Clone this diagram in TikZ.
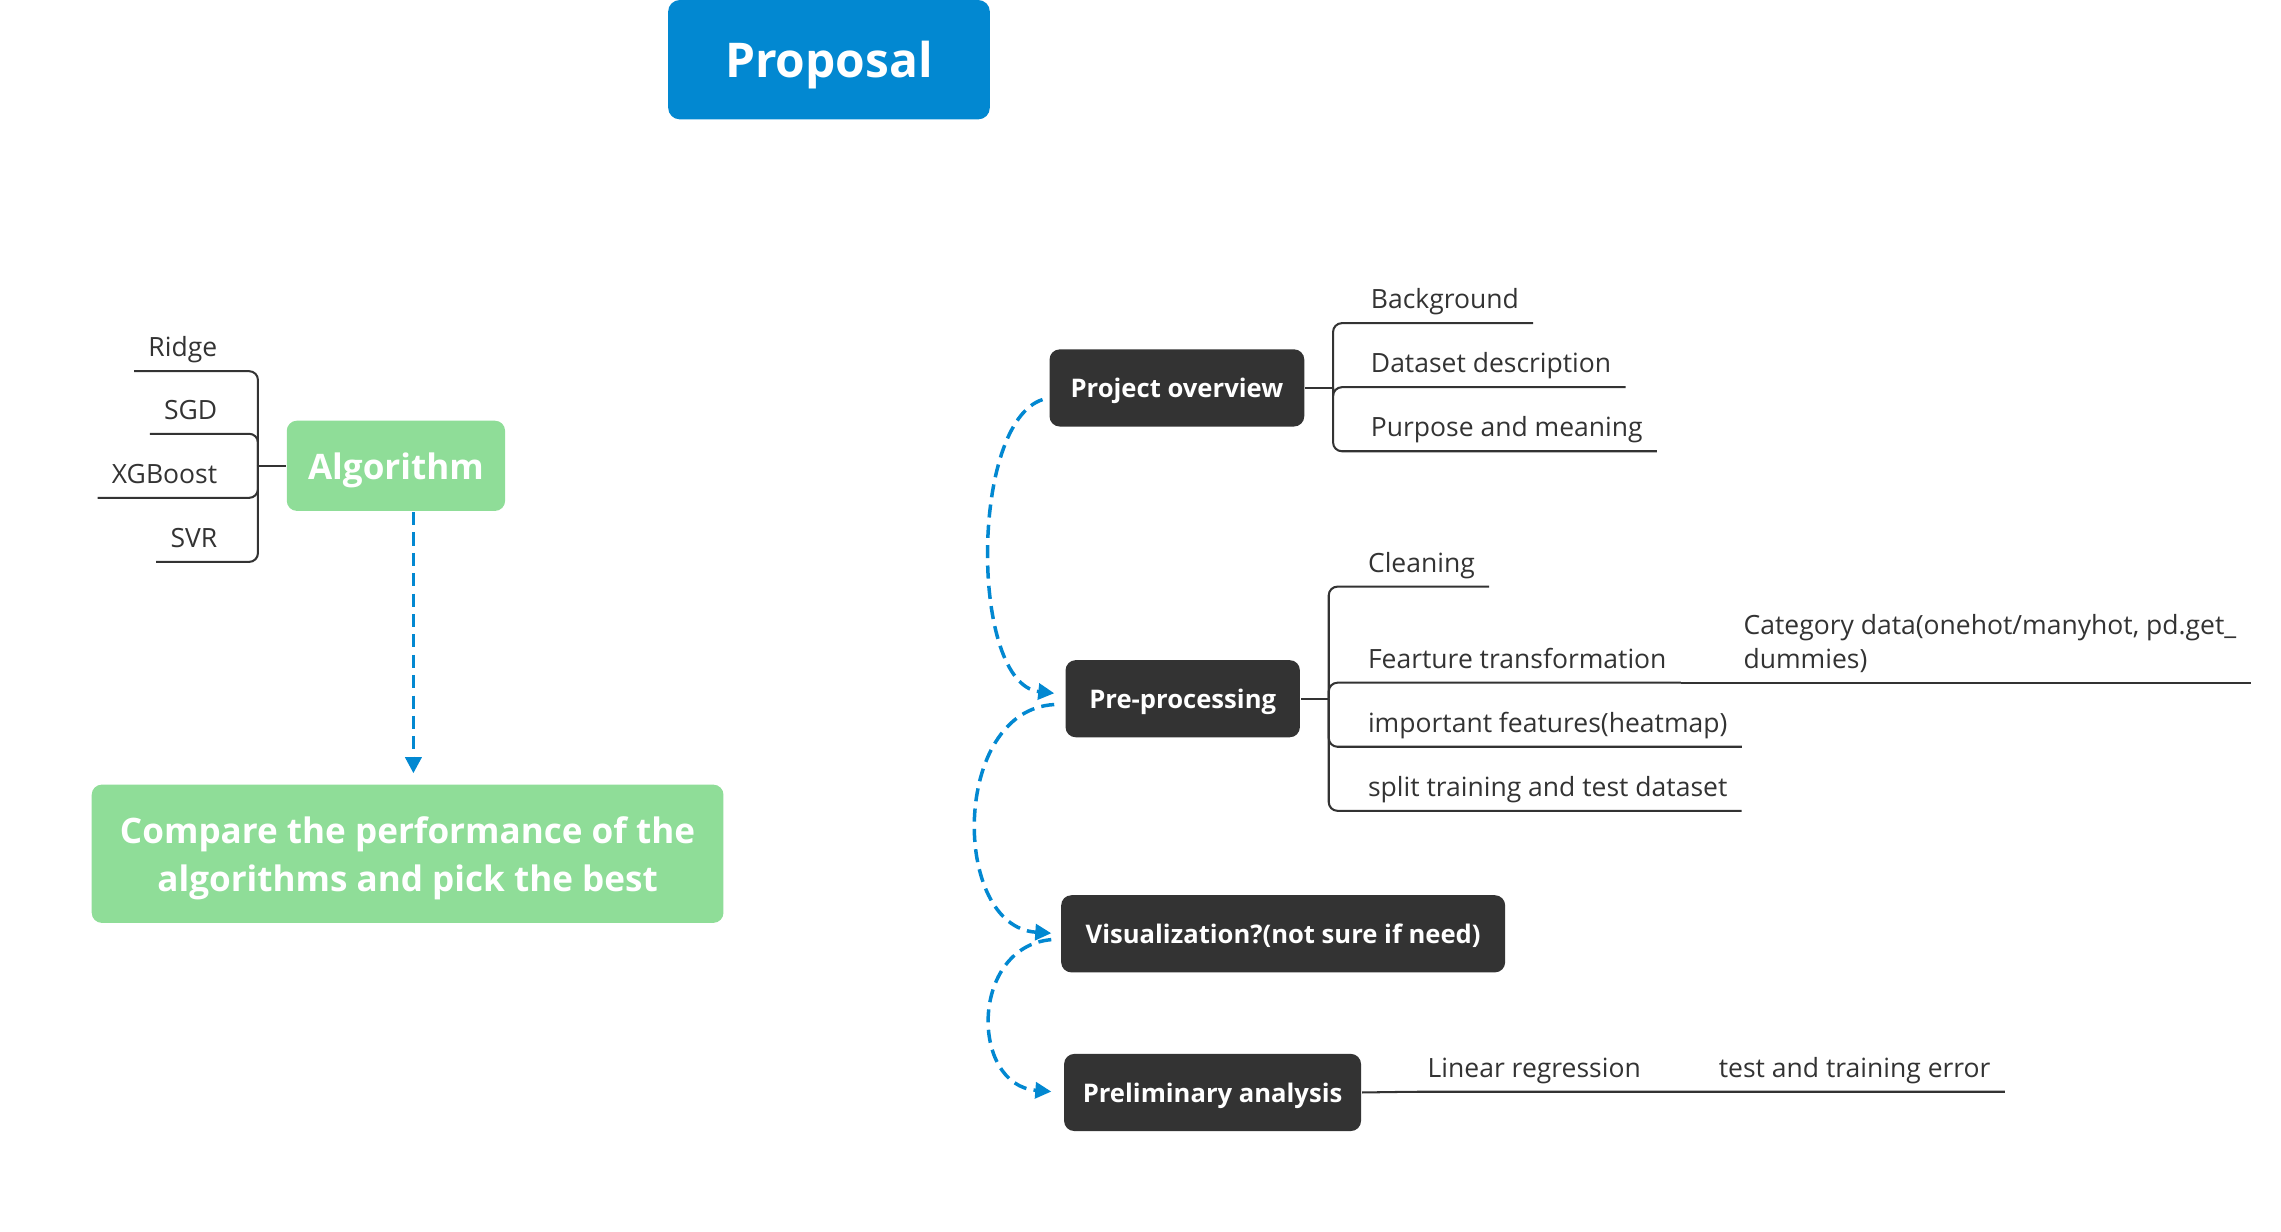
\documentclass[tikz,border=0pt]{standalone}
\usepackage{fontspec}
\setmainfont{Open Sans}
\usetikzlibrary{arrows.meta}
\definecolor{topblue}{HTML}{0288D1}
\definecolor{algogreen}{HTML}{8FDD98}
\definecolor{darkbox}{HTML}{333333}
\begin{document}
\begin{tikzpicture}[x=0.5pt,y=-0.5pt,thick,
    main node/.style={rounded corners=3.5pt,fill=darkbox,text=white,font=\bfseries\fontsize{8.8}{10.5}\selectfont,minimum height=26.5pt,inner sep=0pt,text depth=0pt},
    green node/.style={rounded corners=3.5pt,fill=algogreen,text=white,font=\bfseries\fontsize{12.05}{16.5}\selectfont,inner sep=0pt,align=center,text depth=0pt},
    leaf/.style={text=darkbox,font=\fontsize{9.1}{11.5}\selectfont,inner xsep=4.5pt,inner ysep=0pt,text depth=4.6pt,align=left},
    branch/.style={draw=darkbox,line width=0.7pt,rounded corners=3pt},
    flow/.style={draw=topblue,line width=1.2pt,dash pattern=on 4.5pt off 2.5pt,shorten >=3.5pt,-{Triangle[length=5.5pt,width=5.5pt]}}]
    \useasboundingbox (0,0) rectangle (1567,845.7);
    \node[fill=topblue,text=white,rounded corners=4pt,minimum width=110.5pt,minimum height=41pt,text depth=0pt,font=\bfseries\fontsize{16.45}{20}\selectfont] (prop) at (569.5,41) {Proposal};
    % algorithm side
    \node[green node,minimum width=75pt,minimum height=31pt] (algo) at (272,320) {Algorithm};
    \node[green node,minimum width=217pt,minimum height=47.5pt] (cmp) at (280,586.5) {Compare the performance of the\\algorithms and pick the best};
    \node[leaf,anchor=south east] (ridge) at (159,255) {Ridge};
    \node[leaf,anchor=south east] (sgd) at (159,298) {SGD};
    \node[leaf,anchor=south east] (xgb) at (159,342) {XGBoost};
    \node[leaf,anchor=south east] (svr) at (159,386) {SVR};
    \draw[branch] (algo.west) -- ++(-19,0) coordinate (aj);
    \foreach \n in {ridge,sgd,xgb,svr}
        \draw[branch] (aj) |- (\n.south west);
    \draw[flow,transform canvas={xshift=6pt}] (algo.south) -- (algo.south |- cmp.north);
    % main steps
    \node[main node,minimum width=87.5pt] (ov) at (808.5,266.5) {Project overview};
    \node[main node,minimum width=80.5pt] (pre) at (812.5,480) {Pre-processing};
    \node[main node,minimum width=152.5pt] (vis) at (881.5,641.5) {Visualization?(not sure if need)};
    \node[main node,minimum width=102pt] (pa) at (833,750.5) {Preliminary analysis};
    % project overview
    \node[leaf,anchor=south west] (bg) at (932,222) {Background};
    \node[leaf,anchor=south west] (ds) at (932,266) {Dataset description};
    \node[leaf,anchor=south west] (pm) at (932,310) {Purpose and meaning};
    \draw[branch] (ov.east) -- ++(19,0) coordinate (oj);
    \foreach \n in {bg,ds,pm}
        \draw[branch] (oj) |- (\n.south east);
    % pre-processing
    \node[leaf,anchor=south west] (cl) at (930,403) {Cleaning};
    \node[leaf,anchor=south west] (ft) at (930,469) {Fearture transformation};
    \node[leaf,anchor=south west] (cat) at (1188,469) {Category data(onehot/manyhot, pd.get\_\\dummies)};
    \node[leaf,anchor=south west] (imp) at (930,513) {important features(heatmap)};
    \node[leaf,anchor=south west] (spl) at (930,557) {split training and test dataset};
    \draw[branch] (pre.east) -- ++(19,0) coordinate (pj);
    \foreach \n in {cl,ft,imp,spl}
        \draw[branch] (pj) |- (\n.south east);
    \draw[branch] (ft.south east) -- (cat.south east);
    % preliminary analysis
    \node[leaf,anchor=south west] (lr) at (971,750) {Linear regression};
    \node[leaf,anchor=south west] (te) at (1171,750) {test and training error};
    \draw[branch] (pa.east) -- (lr.south west) -- (te.south east);
    % flow between steps
    \draw[flow] ([xshift=-2pt,yshift=-4pt]ov.west) .. controls +(-50,16) and +(-65,-7) .. ([yshift=1.5pt]pre.west);
    \draw[flow,shorten >=3pt] ([xshift=-3.5pt,yshift=-2pt]pre.west) .. controls +(-71,4) and +(-75,-5) .. (vis.west);
    \draw[flow,shorten >=4pt] ([xshift=-3pt,yshift=-2pt]vis.west) .. controls +(-56,5) and +(-64,-5) .. (pa.west);
\end{tikzpicture}
\end{document}
